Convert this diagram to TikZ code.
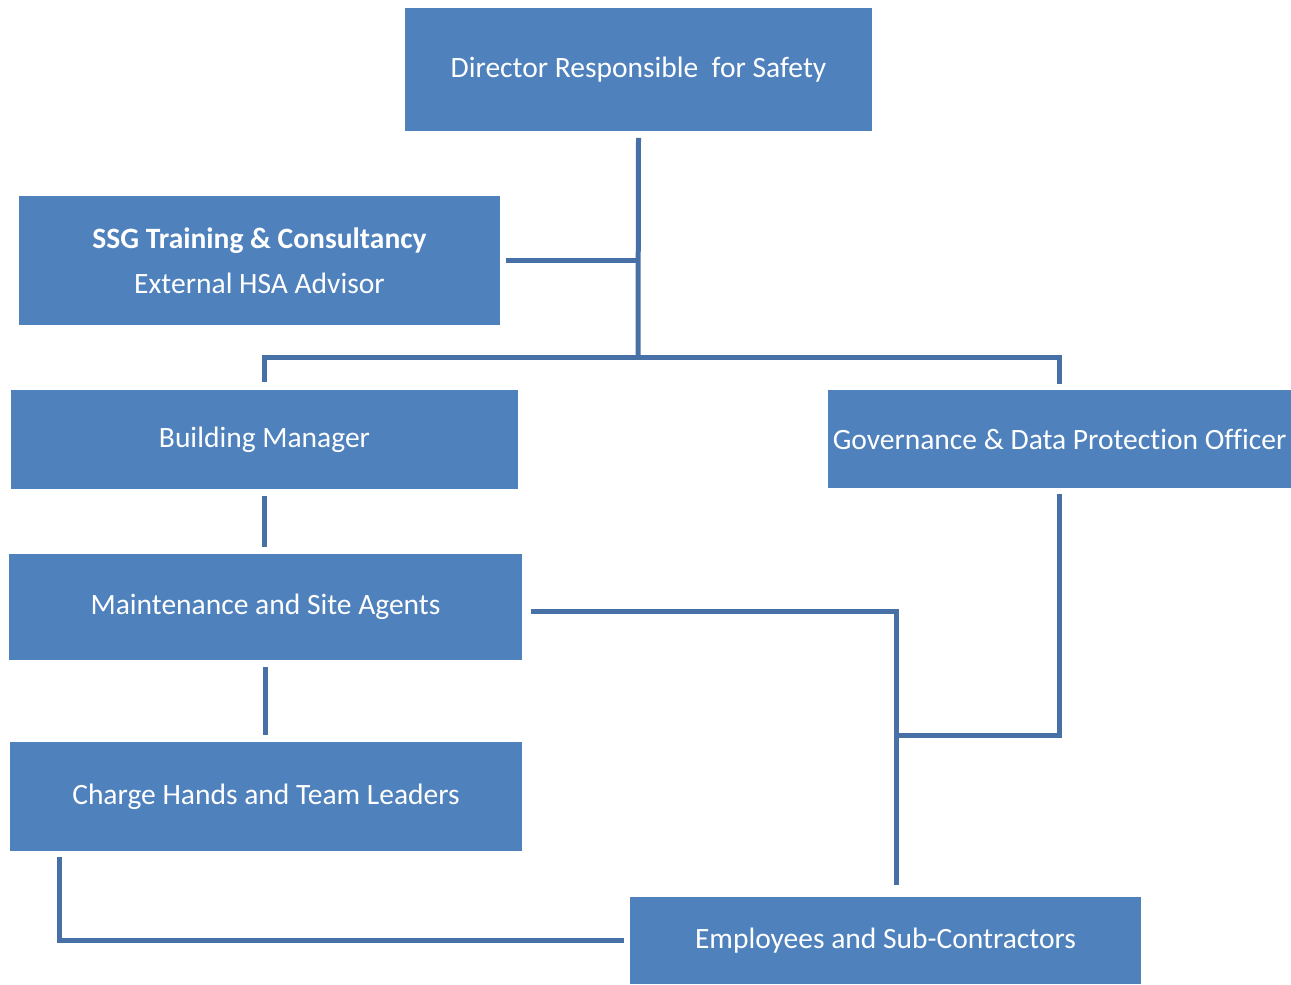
\documentclass[tikz,border=0pt]{standalone}
\usepackage{fontspec}
\setmainfont{Carlito}[Ligatures=NoCommon]
\definecolor{boxblue}{HTML}{4F81BD}
\definecolor{lineblue}{HTML}{4670A6}
\tikzset{
  orgbox/.style={fill=boxblue, text=white, inner sep=0pt, outer sep=0pt, align=center,
    font=\fontsize{16.8}{22}\selectfont},
  link/.style={draw=lineblue, line width=0.1cm}
}
\begin{document}
\begin{tikzpicture}[x=0.02cm, y=-0.02cm]
    \useasboundingbox (0,0) rectangle (1291,984);
    % boxes
    \node[orgbox, minimum width=9.34cm, minimum height=2.46cm] (director) at (638.5,69.5) {Director Responsible\ \ for Safety};
    \node[orgbox, minimum width=9.62cm, minimum height=2.58cm, font=\fontsize{16.8}{25.5}\selectfont] (ssg) at (259.5,260.5) {\textbf{SSG Training \& Consultancy}\\External HSA Advisor};
    \node[orgbox, minimum width=10.14cm, minimum height=1.98cm] (bm) at (264.5,439.5) {Building Manager};
    \node[orgbox, minimum width=9.26cm, minimum height=1.96cm] (gdpo) at (1059.5,439) {Governance \& Data Protection Officer};
    \node[orgbox, minimum width=10.26cm, minimum height=2.12cm] (maint) at (265.5,607) {Maintenance and Site Agents};
    \node[orgbox, minimum width=10.24cm, minimum height=2.18cm] (ch) at (266,796.5) {Charge Hands and Team Leaders};
    \node[orgbox, minimum width=10.22cm, minimum height=1.74cm] (emp) at (885.5,940.5) {Employees and Sub-Contractors};
    % junctions
    \coordinate (hub) at (638,357);
    \coordinate (merge) at (896,735);
    \coordinate (drop) at (896,885);
    % connectors
    \draw[link] ([yshift=-0.14cm]director.south) -- (hub);
    \draw[link] ([xshift=0.12cm]ssg.east) -- (ssg.east -| hub);
    \draw[link] ([yshift=0.16cm]bm.north) |- (hub) -| ([yshift=0.12cm]gdpo.north);
    \draw[link] ([yshift=-0.14cm]bm.south) -- ([yshift=0.14cm]maint.north -| bm.south);
    \draw[link] ([yshift=-0.14cm]maint.south) -- ([yshift=0.14cm]ch.north -| maint.south);
    \draw[link] ([xshift=0.18cm,yshift=-0.08cm]maint.east) -| (drop);
    \draw[link] ([yshift=-0.12cm]gdpo.south) |- (merge);
    \draw[link] ([xshift=0.98cm,yshift=-0.12cm]ch.south west) |- ([xshift=-0.12cm]emp.west);
\end{tikzpicture}
\end{document}
